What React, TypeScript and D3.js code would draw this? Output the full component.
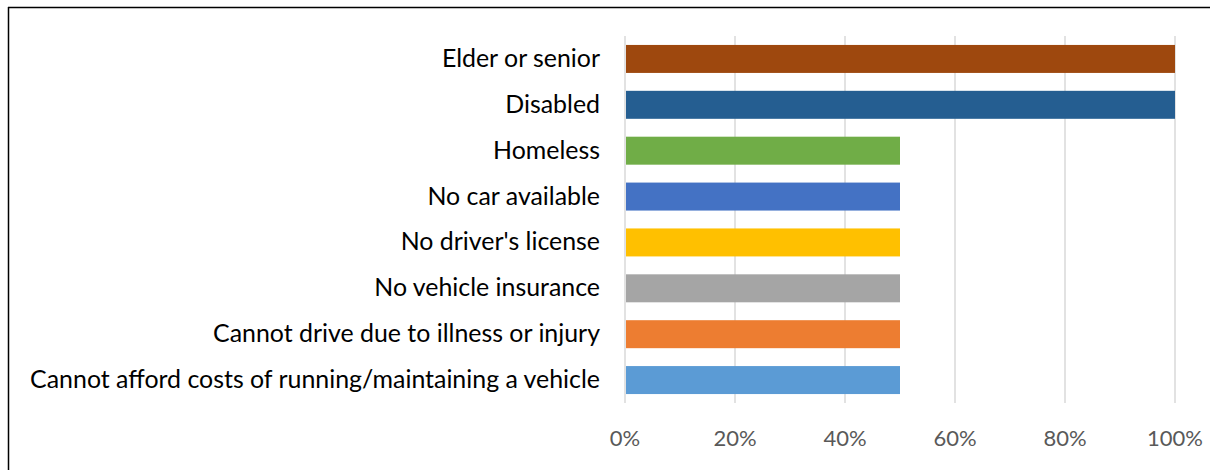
import React from "react";
import * as d3 from "d3";

const categories = [
  "Elder or senior",
  "Disabled",
  "Homeless",
  "No car available",
  "No driver's license",
  "No vehicle insurance",
  "Cannot drive due to illness or injury",
  "Cannot afford costs of running/maintaining a vehicle",
];
const values = [100, 100, 50, 50, 50, 50, 50, 50];
const colors = ["#9E480E", "#255E91", "#70AD47", "#4472C4", "#FFC000", "#A5A5A5", "#ED7D31", "#5B9BD5"];
const ticks = [0, 20, 40, 60, 80, 100];

export default function App() {
  const W = 1210, H = 470;
  const x = d3.scaleLinear().domain([0, 100]).range([625, 1175]);
  const y = d3.scaleBand().domain(categories).range([36, 403]).paddingInner(0.39).paddingOuter(0.195);
  const font = "Lato, 'Open Sans', sans-serif";
  return (
    <svg width={W} height={H} style={{ position: "absolute", left: 0, top: 0 }}>
      <rect x={0} y={0} width={W} height={H} fill="#fff" />
      <line x1={8} y1={7.5} x2={W} y2={7.5} stroke="#000" strokeWidth={1.5} />
      <line x1={8.5} y1={7} x2={8.5} y2={H} stroke="#000" strokeWidth={1.5} />
      {ticks.map((t) => (
        <g key={t}>
          <line x1={x(t)} x2={x(t)} y1={36} y2={403} stroke="#d9d9d9" strokeWidth={1.5} />
          <text x={x(t)} y={446} textAnchor="middle" fontFamily={font} fontSize={22} fill="#595959">
            {t}%
          </text>
        </g>
      ))}
      {categories.map((c, i) => (
        <g key={c}>
          <rect x={x(0) + 1} y={y(c)} width={x(values[i]) - x(0) - 1} height={y.bandwidth()} fill={colors[i]} />
          <text
            x={600}
            y={(y(c) as number) + y.bandwidth() / 2 + 8}
            textAnchor="end"
            fontFamily={font}
            fontSize={24.9}
            fill="#000"
          >
            {c}
          </text>
        </g>
      ))}
    </svg>
  );
}
